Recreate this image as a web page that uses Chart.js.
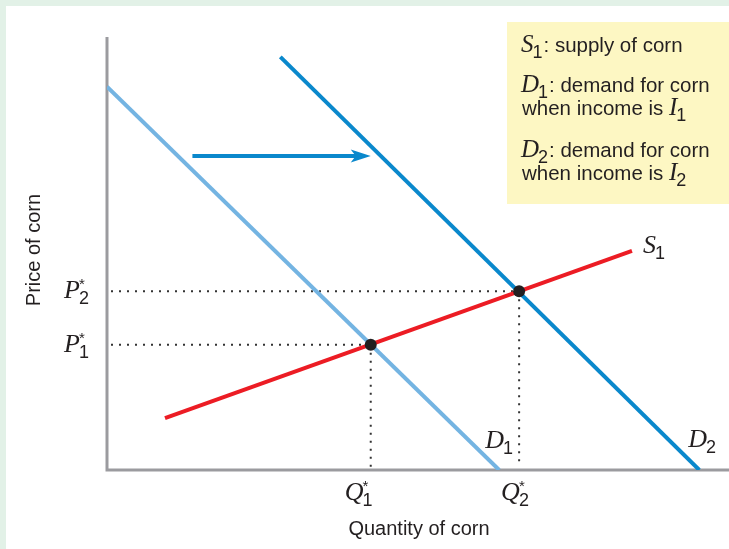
<!DOCTYPE html>
<html>
<head>
<meta charset="utf-8">
<script src="https://cdn.jsdelivr.net/npm/chart.js@4.4.0/dist/chart.umd.min.js"></script>
<style>
body { margin: 0; background: #e2f1e7; }
#wrap { width: 729px; height: 549px; }
</style>
</head>
<body>
<div id="wrap"><canvas id="cornChart" width="729" height="549"></canvas></div>
<script>
// curves as [quantity, price] end points
const demand1 = [[0, 88.5], [62.9, 0]];
const demand2 = [[27.8, 95.4], [95.0, 0]];
const supply1 = [[9.3, 12.0], [84.2, 50.6]];
const equilibria = [[42.3, 28.9], [66.1, 41.3]];
const shiftArrow = [[13.7, 72.5], [42.3, 72.5]];
const eqSubs = ["1", "2"];

const ink = "#231f20";
const serif = "'Liberation Serif', 'DejaVu Serif', serif";
const sans = "'Liberation Sans', Arial, sans-serif";

function pts(arr) {
  return arr.map(function(p){ return {x: p[0], y: p[1]}; });
}

// italic letter + sans subscript (+ optional star), returns end x
function sym(ctx, x, y, letter, sub, star, size) {
  size = size || 26;
  ctx.fillStyle = ink;
  ctx.textAlign = "left";
  ctx.textBaseline = "alphabetic";
  ctx.font = "italic " + size + "px " + serif;
  ctx.fillText(letter, x, y);
  let w = ctx.measureText(letter).width;
  ctx.font = "18px " + sans;
  ctx.fillText(sub, x + w - 1, y + 6);
  let sw = ctx.measureText(sub).width;
  if (star) {
    ctx.font = "15px " + sans;
    ctx.fillText("*", x + w - 1, y - 9);
  }
  return x + w - 1 + sw;
}

const extras = {
  id: "extras",
  beforeDraw: function(chart) {
    const ctx = chart.ctx;
    ctx.save();
    ctx.fillStyle = "#e2f1e7";
    ctx.fillRect(0, 0, chart.width, chart.height);
    ctx.fillStyle = "#ffffff";
    ctx.fillRect(6, 6, chart.width - 6, chart.height - 6);

    // legend box
    ctx.fillStyle = "#fdf7c3";
    ctx.fillRect(507, 22, 222, 182);
    let x = sym(ctx, 521, 52, "S", "1", false, 25);
    ctx.font = "20.5px " + sans;
    ctx.fillText(": supply of corn", x + 1, 52);
    x = sym(ctx, 521, 92, "D", "1", false, 25);
    ctx.font = "20.5px " + sans;
    ctx.fillText(": demand for corn", x + 1, 92);
    ctx.fillText("when income is", 522, 115);
    sym(ctx, 669, 115, "I", "1", false, 25);
    x = sym(ctx, 521, 157, "D", "2", false, 25);
    ctx.font = "20.5px " + sans;
    ctx.fillText(": demand for corn", x + 1, 157);
    ctx.fillText("when income is", 522, 180);
    sym(ctx, 669, 180, "I", "2", false, 25);
    ctx.restore();
  },
  beforeDatasetsDraw: function(chart) {
    const ctx = chart.ctx;
    const xs = chart.scales.x, ys = chart.scales.y;
    const a = chart.chartArea;
    ctx.save();
    // dotted guides
    ctx.strokeStyle = "#333";
    ctx.lineWidth = 2;
    ctx.setLineDash([2, 6]);
    equilibria.forEach(function(e) {
      const px = xs.getPixelForValue(e[0]);
      const py = ys.getPixelForValue(e[1]);
      ctx.beginPath();
      ctx.moveTo(a.left + 4, py);
      ctx.lineTo(px, py);
      ctx.moveTo(px, py);
      ctx.lineTo(px, a.bottom - 3);
      ctx.stroke();
    });
    ctx.setLineDash([]);
    // axes
    ctx.strokeStyle = "#9b9b9f";
    ctx.lineWidth = 3;
    ctx.beginPath();
    ctx.moveTo(a.left, a.top);
    ctx.lineTo(a.left, a.bottom);
    ctx.lineTo(chart.width, a.bottom);
    ctx.stroke();

    // shift arrow
    const x0 = xs.getPixelForValue(shiftArrow[0][0]);
    const x1 = xs.getPixelForValue(shiftArrow[1][0]);
    const ay = ys.getPixelForValue(shiftArrow[0][1]);
    ctx.strokeStyle = "#0a88cc";
    ctx.fillStyle = "#0a88cc";
    ctx.lineWidth = 4;
    ctx.beginPath();
    ctx.moveTo(x0, ay);
    ctx.lineTo(x1 - 14, ay);
    ctx.stroke();
    ctx.beginPath();
    ctx.moveTo(x1, ay);
    ctx.lineTo(x1 - 20, ay - 6.5);
    ctx.lineTo(x1 - 15, ay);
    ctx.lineTo(x1 - 20, ay + 6.5);
    ctx.closePath();
    ctx.fill();

    // text labels
    ctx.fillStyle = ink;
    ctx.font = "20px " + sans;
    ctx.textAlign = "center";
    ctx.fillText("Quantity of corn", 419, 535);
    ctx.save();
    ctx.translate(40, 250);
    ctx.rotate(-Math.PI / 2);
    ctx.fillText("Price of corn", 0, 0);
    ctx.restore();

    equilibria.forEach(function(e, i) {
      const px = xs.getPixelForValue(e[0]);
      const py = ys.getPixelForValue(e[1]);
      sym(ctx, 64, py + 7, "P", eqSubs[i], true);
      const qx = i === 0 ? px - 26 : px - 18;
      sym(ctx, qx, a.bottom + 30, "Q", eqSubs[i], true);
    });
    const d1end = demand1[1], d2end = demand2[1], s1end = supply1[1];
    sym(ctx, xs.getPixelForValue(d1end[0]) - 14, a.bottom - 22, "D", "1", false);
    sym(ctx, xs.getPixelForValue(d2end[0]) - 11, a.bottom - 23, "D", "2", false);
    sym(ctx, xs.getPixelForValue(s1end[0]) + 11, ys.getPixelForValue(s1end[1]) + 2, "S", "1", false);
    ctx.restore();
  }
};

new Chart(document.getElementById("cornChart"), {
  type: "scatter",
  data: {
    datasets: [
      { label: "D1", data: pts(demand1), showLine: true, borderColor: "#74b4e2", borderWidth: 4, pointRadius: 0, order: 3 },
      { label: "D2", data: pts(demand2), showLine: true, borderColor: "#0a88cc", borderWidth: 4, pointRadius: 0, order: 2 },
      { label: "S1", data: pts(supply1), showLine: true, borderColor: "#ec1c24", borderWidth: 4, pointRadius: 0, order: 1 },
      { label: "Equilibrium", data: pts(equilibria), showLine: false, pointRadius: 6, backgroundColor: ink, borderColor: ink, borderWidth: 0, order: 0 }
    ]
  },
  options: {
    responsive: false,
    animation: false,
    layout: { padding: { left: 107, right: 0, top: 37, bottom: 79 } },
    plugins: { legend: { display: false }, tooltip: { enabled: false } },
    scales: {
      x: { type: "linear", min: 0, max: 98.8, display: false },
      y: { type: "linear", min: 0, max: 100, display: false }
    }
  },
  plugins: [extras]
});
</script>
</body>
</html>
